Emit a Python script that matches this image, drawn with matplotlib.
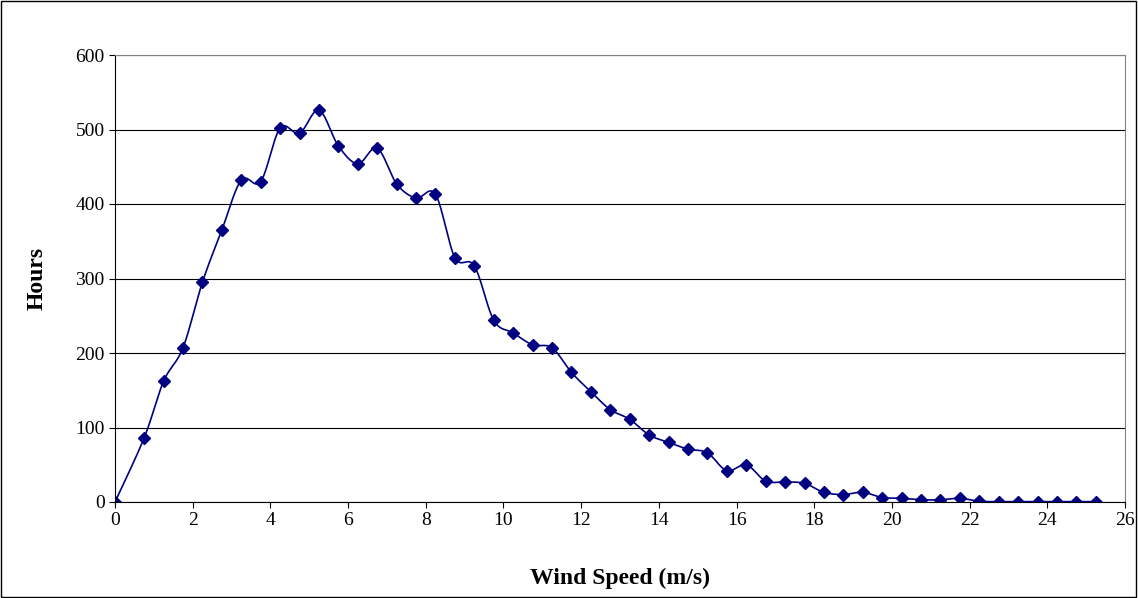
import numpy as np
import matplotlib.pyplot as plt
from matplotlib.patches import Rectangle

plt.rcParams['font.family'] = ['Liberation Serif']

# Datos
wind_speed = np.concatenate([[0.0], np.arange(0.75, 25.3, 0.5)])
hours = [0, 86, 162, 207, 295, 365, 432, 430, 502, 495, 526, 478, 454, 475,
         427, 408, 413, 328, 317, 244, 227, 211, 207, 174, 148, 124, 111, 90,
         80, 71, 66, 42, 50, 28, 27, 25, 13, 10, 13, 6, 5, 3, 3, 5, 1, 0.5,
         0.5, 0.5, 0.5, 0.5, 0.5]
x_ticks = np.arange(0, 27, 2)
y_ticks = np.arange(0, 601, 100)


def suavizar(x, y, n=20):
    # curva tipo Catmull-Rom (como la línea suavizada de Excel)
    x = np.asarray(x, float)
    y = np.asarray(y, float)
    px = np.concatenate([[x[0]], x, [x[-1]]])
    py = np.concatenate([[y[0]], y, [y[-1]]])
    xs, ys = [], []
    t = np.linspace(0, 1, n)
    for i in range(1, len(px) - 2):
        for p, out in ((px, xs), (py, ys)):
            p0, p1, p2, p3 = p[i - 1], p[i], p[i + 1], p[i + 2]
            m1 = (p2 - p0) / 6
            m2 = (p3 - p1) / 6
            b1 = p1 + m1
            b2 = p2 - m2
            out.extend((1 - t) ** 3 * p1 + 3 * (1 - t) ** 2 * t * b1
                       + 3 * (1 - t) * t ** 2 * b2 + t ** 3 * p2)
    return xs, ys


fig = plt.figure(figsize=(11.38, 5.98), dpi=100)
fig.patches.append(Rectangle((0.001, 0.001), 0.997, 0.997, transform=fig.transFigure,
                             fill=False, edgecolor='black', lw=1))
ax = fig.add_axes([115 / 1138, 1 - 502 / 598, 1010 / 1138, 447 / 598])

sx, sy = suavizar(wind_speed, hours)
ax.plot(sx, sy, color='#000080', lw=1.2)
ax.plot(wind_speed, hours, 'D', color='#000080', ms=6)

ax.set_xlim(0, 26)
ax.set_ylim(0, 600)
ax.set_xticks(x_ticks)
ax.set_yticks(y_ticks)
ax.tick_params(labelsize=14, direction='out', length=4)
ax.grid(axis='y', color='black', lw=0.8)
ax.set_axisbelow(True)
ax.set_xlabel('Wind Speed (m/s)', fontsize=17, fontweight='bold', labelpad=28)
ax.set_ylabel('Hours', fontsize=17, fontweight='bold', labelpad=20)
for s in ax.spines.values():
    s.set_color('#808080')
ax.spines['bottom'].set_color('black')
ax.spines['left'].set_color('black')

fig.savefig('out.png', dpi=100)
